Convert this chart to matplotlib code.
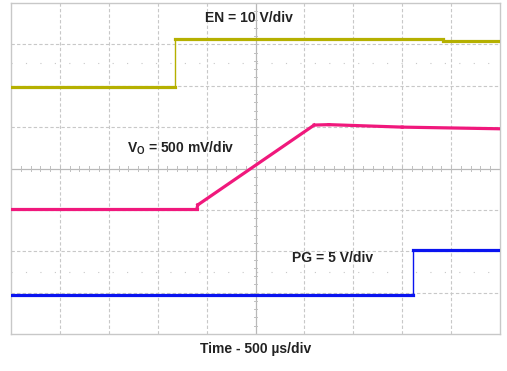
import numpy as np
import matplotlib
matplotlib.use("Agg")
from matplotlib import pyplot as plt

# scope screen, everything in divisions (10 x 8)
en_t = [0.0, 3.35, 3.35, 8.83, 8.83, 10.0]
en_v = [5.98, 5.98, 7.13, 7.13, 7.08, 7.08]

vo_t = [0.0, 3.80, 3.82, 6.20, 6.50, 8.0, 10.0]
vo_v = [3.02, 3.02, 3.12, 5.05, 5.06, 5.00, 4.96]

pg_t = [0.0, 8.22, 8.22, 10.0]
pg_v = [0.95, 0.95, 2.03, 2.03]

labels = ["EN = 10 V/div", "V$_\\mathregular{O}$ = 500 mV/div", "PG = 5 V/div"]
xlabel = "Time - 500 \u00b5s/div"

plt.rcParams['font.family'] = ['Liberation Sans', 'DejaVu Sans']


def trace(ax, t, v, col):
    # scope edges are drawn thin, the flat/ramp parts thick
    for i in range(len(t) - 1):
        lw = 1.0 if t[i] == t[i + 1] else 2.3
        ax.plot(t[i:i + 2], v[i:i + 2], color=col, lw=lw, zorder=3,
                solid_capstyle='butt' if lw < 2 else 'projecting')


fig = plt.figure(figsize=(5.07, 3.71), dpi=100)
ax = fig.add_axes([11/507, 1-334/371, 489/507, 331/371])
ax.set_xlim(0, 10)
ax.set_ylim(0, 8)
ax.set_xticks([])
ax.set_yticks([])
for s in ax.spines.values():
    s.set_color('#c8c8c8')
    s.set_linewidth(1.0)

grid_col = '#c8c8c8'
for gx in range(1, 10):
    if gx != 5:
        ax.axvline(gx, color=grid_col, lw=0.8, ls=(0, (3, 2)), zorder=1)
for gy in range(1, 8):
    if gy != 4:
        ax.axhline(gy, color=grid_col, lw=0.8, ls=(0, (3, 2)), zorder=1)
# sparse dotted rows
for gy in [1.5, 6.55]:
    ax.axhline(gy, color=grid_col, lw=0.8, ls=(0, (1, 12)), zorder=1)

# center cross with minor ticks
ax.axvline(5, color='#b8b8b8', lw=0.9, zorder=1)
ax.axhline(4, color='#b8b8b8', lw=0.9, zorder=1)
for t in np.arange(0.2, 10, 0.2):
    ax.plot([t, t], [3.95, 4.05], color='#c0c0c0', lw=0.7, zorder=1)
for t in np.arange(0.2, 8, 0.2):
    ax.plot([4.96, 5.04], [t, t], color='#c0c0c0', lw=0.7, zorder=1)

trace(ax, en_t, en_v, '#b5b000')
trace(ax, vo_t, vo_v, '#f0187c')
trace(ax, pg_t, pg_v, '#0a14f0')

txt = dict(ha='center', va='center', fontsize=10, fontweight='bold', color='#222222')
ax.text(4.87, 7.63, labels[0], **txt)
ax.text(3.48, 4.49, labels[1], **txt)
ax.text(6.58, 1.84, labels[2], **txt)
fig.text(256/507, 1-349/371, xlabel, **txt)

fig.savefig('out.png', dpi=100)
